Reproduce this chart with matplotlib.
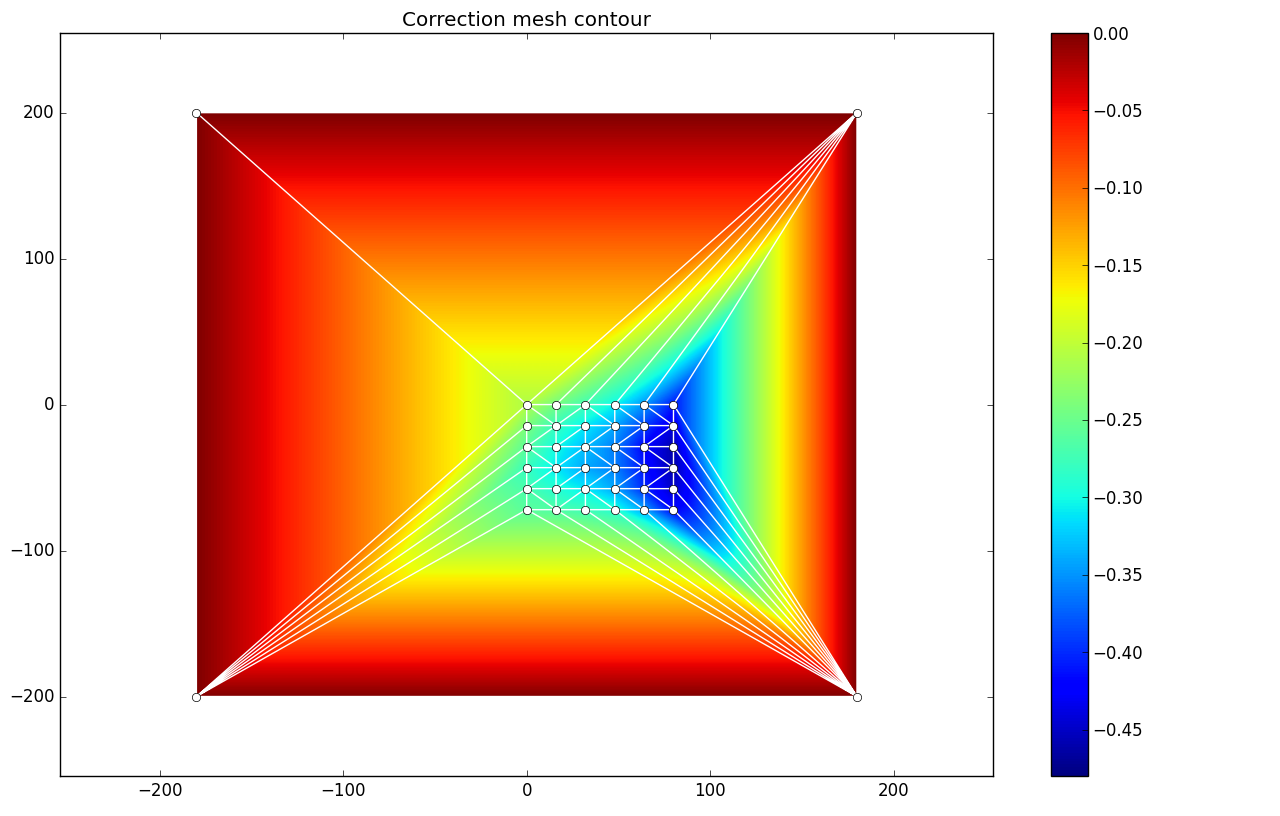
import matplotlib
matplotlib.use('Agg')
import matplotlib.pyplot as plt
import matplotlib.tri as mtri
from matplotlib.transforms import ScaledTranslation
import numpy as np

plt.style.use('classic')

# inner grid of the mesh
grid_x = [0, 16, 32, 48, 64, 80]
grid_y = [0, -14.4, -28.8, -43.2, -57.6, -72]
corner_x = [-180, 180, -180, 180]
corner_y = [200, 200, -200, -200]
corner_z = [0, 0, 0, 0]

# correction values, one row per grid_y
grid_z = [
    [-0.21, -0.245, -0.275, -0.305, -0.35, -0.41],
    [-0.24, -0.28, -0.31, -0.34, -0.39, -0.44],
    [-0.26, -0.30, -0.33, -0.36, -0.42, -0.46],
    [-0.28, -0.31, -0.34, -0.36, -0.41, -0.46],
    [-0.27, -0.29, -0.31, -0.34, -0.40, -0.45],
    [-0.26, -0.265, -0.275, -0.29, -0.34, -0.42],
]

# cell diagonals: 'b' is top left to bottom right, 'f' is top right to bottom left
diagonals = [
    ['b', 'f', 'b', 'b', 'b'],
    ['f', 'f', 'f', 'f', 'f'],
    ['b', 'f', 'b', 'b', 'b'],
    ['f', 'f', 'f', 'f', 'f'],
    ['b', 'f', 'b', 'b', 'b'],
]

x = []
y = []
z = []
for j in range(len(grid_y)):
    for i in range(len(grid_x)):
        x.append(grid_x[i])
        y.append(grid_y[j])
        z.append(grid_z[j][i])
x += corner_x
y += corner_y
z += corner_z


def node(i, j):
    return j * len(grid_x) + i


tl, tr, bl, br = 36, 37, 38, 39
triangles = []
for j in range(5):
    for i in range(5):
        a, b, c, d = node(i, j), node(i + 1, j), node(i, j + 1), node(i + 1, j + 1)
        if diagonals[j][i] == 'b':
            triangles += [[a, b, d], [a, d, c]]
        else:
            triangles += [[a, b, c], [b, d, c]]

# outer triangles joining the grid to the corners
triangles += [[tl, node(0, 0), tr], [tl, bl, node(0, 0)], [bl, br, node(0, 5)], [tr, node(5, 0), br]]
for i in range(5):
    triangles.append([tr, node(i, 0), node(i + 1, 0)])
    triangles.append([br, node(i, 5), node(i + 1, 5)])
for j in range(5):
    triangles.append([bl, node(0, j), node(0, j + 1)])
    triangles.append([br, node(5, j), node(5, j + 1)])

tri = mtri.Triangulation(x, y, triangles)

# interpolate on a fine raster, gouraud would blend rgb instead of values
xi, yi = np.meshgrid(np.linspace(-180, 180, 1300), np.linspace(-200, 200, 1200))
zi = mtri.LinearTriInterpolator(tri, z)(xi, yi)

fig = plt.figure(figsize=(12.8, 8.16), dpi=100, facecolor='white')
ax = fig.add_axes([60 / 1280, 1 - 776 / 816, 933 / 1280, 743 / 816])
im = ax.imshow(zi, origin='lower', extent=[-180, 180, -200, 200], aspect='auto',
               cmap='jet', vmin=-0.48, vmax=0, interpolation='bilinear')
ax.triplot(tri, 'w-', lw=1)
ax.plot(x, y, 'o', color='white', markeredgecolor='black', markeredgewidth=0.5, markersize=6, linestyle='none')
ax.set_xlim(-254.33, 254.12)
ax.set_ylim(-254.45, 254.55)
ax.set_xticks([-200, -100, 0, 100, 200])
ax.set_yticks([-200, -100, 0, 100, 200])
ax.set_title('Correction mesh contour')

cax = fig.add_axes([1051 / 1280, 1 - 776 / 816, 37 / 1280, 743 / 816])
cb = fig.colorbar(im, cax=cax, ticks=[-0.45, -0.40, -0.35, -0.30, -0.25, -0.20, -0.15, -0.10, -0.05, 0.0])
cax.set_yticklabels(['\u22120.45', '\u22120.40', '\u22120.35', '\u22120.30', '\u22120.25', '\u22120.20',
                     '\u22120.15', '\u22120.10', '\u22120.05', '0.00'])
# labels sit a little lower and closer to the bar than the default
shift = ScaledTranslation(-1 / 100, -1.5 / 100, fig.dpi_scale_trans)
for label in cax.get_yticklabels():
    label.set_transform(label.get_transform() + shift)

fig.savefig('out.png', dpi=100, facecolor='white')
